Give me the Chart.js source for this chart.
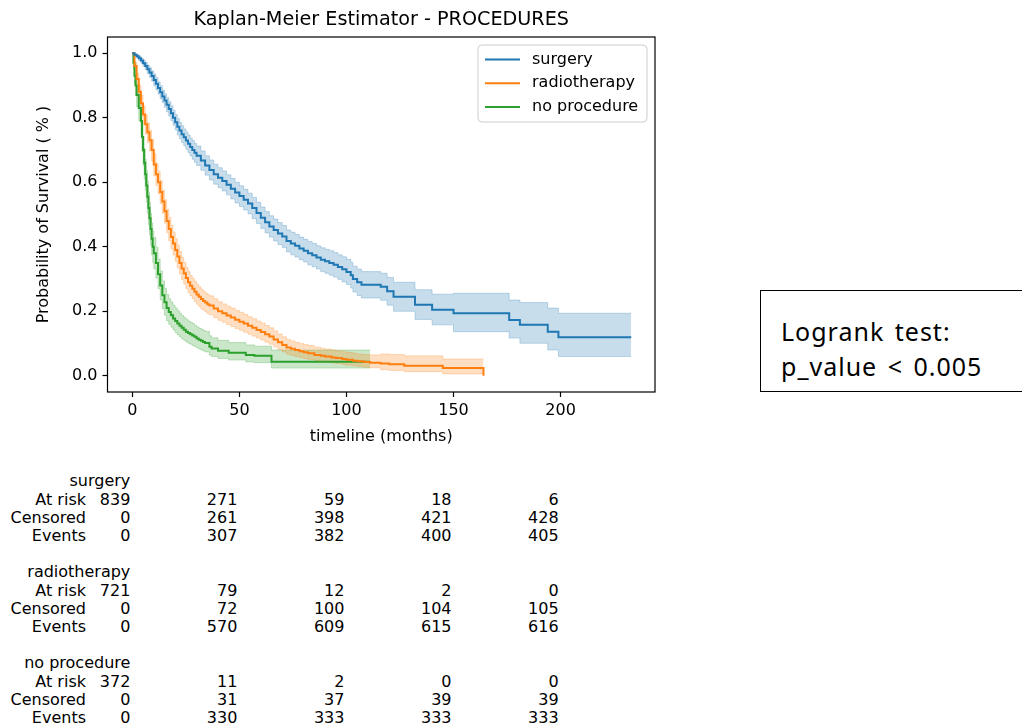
<!DOCTYPE html>
<html>
<head>
<meta charset="utf-8">
<script src="https://cdn.jsdelivr.net/npm/chart.js@4/dist/chart.umd.min.js"></script>
<style>
  body { margin: 0; background: #fff; width: 1022px; height: 727px; position: relative; overflow: hidden; }
  #km { position: absolute; left: 0; top: 0; }
  .cell { position: absolute; font-family: "DejaVu Sans"; font-size: 16px; line-height: 18.2px; color: #000; white-space: pre; text-align: right; }
  #logrank { position: absolute; left: 760px; top: 290px; width: 280px; height: 102px; border: 1.4px solid #000; box-sizing: border-box;
             font-family: "Noto Sans"; font-size: 25px; line-height: 30px; letter-spacing: 1px; word-spacing: 3px; color: #000; }
  #logrank div { position: absolute; left: 20px; white-space: pre; }
</style>
</head>
<body>
<canvas id="km" width="700" height="460"></canvas>
<div id="logrank"><div style="top:25px">Logrank test:</div><div style="top:60px">p_value &lt; 0.005</div></div>
<script>
const xTicks = [0, 50, 100, 150, 200];
const yTicks = [0, 0.2, 0.4, 0.6, 0.8, 1.0];
const groups = ['surgery', 'radiotherapy', 'no procedure'];

// surgery
const surgeryTime  = [0, 1, 2, 3, 4, 5, 6, 7, 8, 9, 10, 11, 12, 13, 14, 15, 16, 17, 18, 19, 20, 21, 22, 23, 24, 25, 26, 27, 28, 29, 30,
  32, 34, 36, 38, 40, 42, 44, 46, 48, 50, 52, 54, 56, 58, 60, 62, 64, 66, 68, 70, 72, 74, 76, 78, 80, 82, 84, 86, 88, 90,
  92, 94, 96, 98, 100, 102, 103, 105, 107, 116, 119, 122, 132, 140, 150, 176, 181, 194, 199, 233];
const surgerySurv  = [1.0, 0.995, 0.99, 0.984, 0.977, 0.969, 0.96, 0.95, 0.94, 0.929, 0.917, 0.905, 0.892, 0.879, 0.866, 0.853, 0.84, 0.827, 0.814, 0.8, 0.786, 0.772, 0.76, 0.749, 0.739, 0.729, 0.719, 0.709, 0.7, 0.691, 0.682,
  0.667, 0.652, 0.638, 0.625, 0.614, 0.604, 0.592, 0.58, 0.568, 0.557, 0.546, 0.534, 0.52, 0.505, 0.49, 0.476, 0.463, 0.452, 0.441, 0.432, 0.418, 0.41, 0.403, 0.395, 0.388, 0.38, 0.374, 0.367, 0.36, 0.355,
  0.35, 0.344, 0.337, 0.33, 0.322, 0.312, 0.3, 0.29, 0.282, 0.276, 0.262, 0.245, 0.22, 0.205, 0.194, 0.173, 0.158, 0.137, 0.12, 0.12];
const surgeryLower = [1.0, 0.992, 0.985, 0.977, 0.969, 0.959, 0.949, 0.937, 0.925, 0.913, 0.899, 0.886, 0.873, 0.859, 0.846, 0.832, 0.818, 0.805, 0.791, 0.777, 0.762, 0.747, 0.735, 0.723, 0.713, 0.702, 0.692, 0.681, 0.671, 0.662, 0.652,
  0.637, 0.622, 0.607, 0.594, 0.583, 0.573, 0.561, 0.548, 0.536, 0.525, 0.514, 0.502, 0.487, 0.472, 0.457, 0.443, 0.43, 0.418, 0.407, 0.398, 0.384, 0.375, 0.368, 0.36, 0.353, 0.344, 0.338, 0.331, 0.323, 0.318,
  0.312, 0.306, 0.299, 0.291, 0.283, 0.272, 0.26, 0.249, 0.241, 0.234, 0.219, 0.2, 0.175, 0.158, 0.137, 0.117, 0.101, 0.08, 0.06, 0.06];
const surgeryUpper = [1.0, 0.998, 0.995, 0.991, 0.985, 0.979, 0.971, 0.963, 0.955, 0.945, 0.935, 0.924, 0.911, 0.899, 0.886, 0.874, 0.862, 0.849, 0.837, 0.823, 0.81, 0.797, 0.785, 0.775, 0.765, 0.756, 0.746, 0.737, 0.729, 0.72, 0.712,
  0.697, 0.682, 0.669, 0.656, 0.645, 0.635, 0.623, 0.612, 0.6, 0.589, 0.578, 0.566, 0.553, 0.538, 0.523, 0.509, 0.496, 0.486, 0.475, 0.466, 0.452, 0.445, 0.438, 0.43, 0.423, 0.416, 0.41, 0.403, 0.397, 0.392,
  0.388, 0.382, 0.375, 0.369, 0.361, 0.352, 0.34, 0.331, 0.323, 0.318, 0.305, 0.29, 0.267, 0.253, 0.256, 0.235, 0.227, 0.21, 0.194, 0.194];

// radiotherapy
const radioTime  = [0, 1, 2, 3, 4, 5, 6, 7, 8, 9, 10, 11, 12, 13, 14, 15, 16, 17, 18, 19, 20, 21, 22, 23, 24, 25, 26, 27, 28, 29, 30,
  31, 32, 33, 34, 35, 36, 38, 40, 42, 44, 46, 48, 50, 52, 54, 56, 58, 60, 62, 64, 66, 68, 70, 72, 74, 76, 78, 80, 82, 85,
  88, 90, 93, 95, 98, 100, 103, 105, 108, 111, 116, 120, 127, 145, 164];
const radioSurv  = [1.0, 0.96, 0.92, 0.88, 0.845, 0.81, 0.78, 0.755, 0.73, 0.7, 0.655, 0.625, 0.6, 0.57, 0.54, 0.51, 0.48, 0.455, 0.43, 0.41, 0.39, 0.37, 0.35, 0.333, 0.318, 0.303, 0.29, 0.279, 0.27, 0.261, 0.252,
  0.245, 0.238, 0.232, 0.227, 0.222, 0.218, 0.209, 0.2, 0.194, 0.187, 0.181, 0.174, 0.168, 0.162, 0.155, 0.149, 0.142, 0.136, 0.129, 0.122, 0.113, 0.104, 0.096, 0.088, 0.084, 0.08, 0.076, 0.073, 0.07, 0.065,
  0.062, 0.06, 0.057, 0.055, 0.052, 0.05, 0.047, 0.045, 0.043, 0.041, 0.038, 0.036, 0.031, 0.024, 0.0];
const radioLower = [1.0, 0.946, 0.9, 0.856, 0.818, 0.781, 0.749, 0.723, 0.697, 0.666, 0.62, 0.59, 0.564, 0.534, 0.504, 0.473, 0.444, 0.419, 0.394, 0.375, 0.355, 0.335, 0.316, 0.299, 0.285, 0.27, 0.258, 0.248, 0.239, 0.23, 0.222,
  0.215, 0.208, 0.203, 0.198, 0.193, 0.189, 0.18, 0.172, 0.166, 0.159, 0.153, 0.147, 0.141, 0.135, 0.129, 0.123, 0.117, 0.111, 0.104, 0.098, 0.09, 0.082, 0.074, 0.067, 0.063, 0.06, 0.057, 0.054, 0.051, 0.047,
  0.044, 0.042, 0.04, 0.038, 0.035, 0.033, 0.031, 0.029, 0.027, 0.025, 0.019, 0.017, 0.013, 0.006, 0.006];
const radioUpper = [1.0, 0.972, 0.937, 0.901, 0.869, 0.836, 0.808, 0.784, 0.761, 0.732, 0.688, 0.659, 0.634, 0.605, 0.576, 0.546, 0.516, 0.491, 0.466, 0.446, 0.425, 0.405, 0.385, 0.367, 0.352, 0.336, 0.323, 0.311, 0.302, 0.293, 0.284,
  0.276, 0.269, 0.263, 0.257, 0.252, 0.248, 0.239, 0.23, 0.223, 0.216, 0.21, 0.203, 0.197, 0.19, 0.183, 0.177, 0.17, 0.164, 0.156, 0.149, 0.139, 0.13, 0.121, 0.113, 0.108, 0.104, 0.1, 0.097, 0.094, 0.089,
  0.085, 0.083, 0.08, 0.078, 0.075, 0.073, 0.07, 0.068, 0.066, 0.065, 0.068, 0.066, 0.062, 0.052, 0.052];

// no procedure
const noneTime  = [0, 0.5, 1, 1.5, 2, 3, 4, 4.5, 5, 5.5, 6, 6.5, 7, 7.5, 8, 8.5, 9, 9.5, 10, 11, 12, 13, 14, 15, 16, 17, 18, 19, 20,
  21, 22, 23, 24, 25, 26, 27, 28, 29, 30, 31, 32, 33, 34, 36, 37, 40, 45, 53, 57, 65, 111];
const noneSurv  = [1.0, 0.97, 0.93, 0.9, 0.87, 0.83, 0.79, 0.74, 0.7, 0.66, 0.625, 0.59, 0.555, 0.52, 0.488, 0.455, 0.425, 0.4, 0.38, 0.35, 0.315, 0.28, 0.25, 0.228, 0.21, 0.198, 0.188, 0.178, 0.17,
  0.162, 0.155, 0.149, 0.143, 0.137, 0.133, 0.129, 0.125, 0.121, 0.116, 0.112, 0.109, 0.105, 0.102, 0.09, 0.085, 0.078, 0.072, 0.065, 0.062, 0.044, 0.044];
const noneLower = [1.0, 0.95, 0.902, 0.868, 0.834, 0.79, 0.746, 0.694, 0.652, 0.61, 0.575, 0.539, 0.504, 0.469, 0.437, 0.405, 0.375, 0.351, 0.332, 0.303, 0.27, 0.236, 0.208, 0.188, 0.171, 0.16, 0.151, 0.142, 0.134,
  0.127, 0.121, 0.115, 0.11, 0.105, 0.101, 0.098, 0.094, 0.091, 0.087, 0.083, 0.08, 0.077, 0.074, 0.064, 0.06, 0.054, 0.049, 0.043, 0.041, 0.024, 0.024];
const noneUpper = [1.0, 0.983, 0.95, 0.924, 0.898, 0.863, 0.827, 0.781, 0.743, 0.705, 0.671, 0.637, 0.603, 0.569, 0.537, 0.504, 0.474, 0.449, 0.429, 0.398, 0.362, 0.325, 0.294, 0.271, 0.252, 0.239, 0.229, 0.219, 0.21,
  0.202, 0.194, 0.187, 0.181, 0.175, 0.17, 0.166, 0.162, 0.157, 0.152, 0.148, 0.145, 0.141, 0.138, 0.124, 0.118, 0.11, 0.103, 0.096, 0.092, 0.08, 0.08];

// at-risk table
const atRiskSurgery   = [839, 271, 59, 18, 6];
const censoredSurgery = [0, 261, 398, 421, 428];
const eventsSurgery   = [0, 307, 382, 400, 405];
const atRiskRadio     = [721, 79, 12, 2, 0];
const censoredRadio   = [0, 72, 100, 104, 105];
const eventsRadio     = [0, 570, 609, 615, 616];
const atRiskNone      = [372, 11, 2, 0, 0];
const censoredNone    = [0, 31, 37, 39, 39];
const eventsNone      = [0, 330, 333, 333, 333];

const colors = ['#1f77b4', '#ff7f0e', '#2ca02c'];
const bandColors = ['rgba(31,119,180,0.25)', 'rgba(255,127,14,0.25)', 'rgba(44,160,44,0.25)'];

function pts(t, v) { return t.map((x, i) => ({ x: x, y: v[i] })); }

const series = [
  [surgeryTime, surgerySurv, surgeryLower, surgeryUpper],
  [radioTime, radioSurv, radioLower, radioUpper],
  [noneTime, noneSurv, noneLower, noneUpper]
];

const datasets = [];
series.forEach((s, i) => {
  datasets.push({ label: groups[i], data: pts(s[0], s[1]), borderColor: colors[i], borderWidth: 2,
    stepped: true, pointRadius: 0, fill: false, order: 0 });
});
series.forEach((s, i) => {
  datasets.push({ label: groups[i] + ' upper', data: pts(s[0], s[3]), borderColor: bandColors[i], borderWidth: 1,
    backgroundColor: bandColors[i], stepped: true, pointRadius: 0, fill: '+1', order: 1 });
  datasets.push({ label: groups[i] + ' lower', data: pts(s[0], s[2]), borderColor: bandColors[i], borderWidth: 1,
    stepped: true, pointRadius: 0, fill: false, order: 1 });
});

const font = '16px "DejaVu Sans"';

const decor = {
  id: 'decor',
  afterDraw(chart) {
    const ctx = chart.ctx, a = chart.chartArea;
    ctx.save();
    ctx.strokeStyle = '#000';
    ctx.lineWidth = 1.2;
    ctx.strokeRect(a.left, a.top, a.right - a.left, a.bottom - a.top);

    ctx.fillStyle = '#000';
    ctx.textAlign = 'center';
    ctx.textBaseline = 'middle';
    ctx.font = '19.2px "DejaVu Sans"';
    ctx.fillText('Kaplan-Meier Estimator - PROCEDURES', (a.left + a.right) / 2, 20);
    ctx.font = font;
    ctx.fillText('timeline (months)', (a.left + a.right) / 2, 437);
    ctx.translate(44, (a.top + a.bottom) / 2);
    ctx.rotate(-Math.PI / 2);
    ctx.fillText('Probability of Survival ( % )', 0, 0);
    ctx.restore();

    // legend
    ctx.save();
    const bx = 478, by = 45, bw = 169, bh = 77, r = 4;
    ctx.beginPath();
    ctx.moveTo(bx + r, by);
    ctx.arcTo(bx + bw, by, bx + bw, by + bh, r);
    ctx.arcTo(bx + bw, by + bh, bx, by + bh, r);
    ctx.arcTo(bx, by + bh, bx, by, r);
    ctx.arcTo(bx, by, bx + bw, by, r);
    ctx.closePath();
    ctx.fillStyle = 'rgba(255,255,255,0.8)';
    ctx.fill();
    ctx.strokeStyle = '#cccccc';
    ctx.lineWidth = 1;
    ctx.stroke();
    ctx.font = font;
    ctx.textAlign = 'left';
    ctx.textBaseline = 'middle';
    groups.forEach((g, i) => {
      const y = 59.5 + i * 23.7;
      ctx.strokeStyle = colors[i];
      ctx.lineWidth = 2;
      ctx.beginPath();
      ctx.moveTo(485, y);
      ctx.lineTo(520, y);
      ctx.stroke();
      ctx.fillStyle = '#000';
      ctx.fillText(g, 532, y);
    });
    ctx.restore();
  }
};

const chart = new Chart(document.getElementById('km').getContext('2d'), {
  type: 'line',
  data: { datasets: datasets },
  options: {
    responsive: false,
    animation: false,
    devicePixelRatio: 1,
    layout: { padding: { left: 0, top: 37, right: 45, bottom: 0 } },
    plugins: { legend: { display: false }, tooltip: { enabled: false }, title: { display: false } },
    scales: {
      x: {
        type: 'linear', min: -11.6, max: 244.1,
        afterFit: s => { s.height = 68; },
        afterBuildTicks: s => { s.ticks = xTicks.map(v => ({ value: v })); },
        border: { display: false },
        grid: { drawOnChartArea: false, drawTicks: true, tickLength: 5, tickColor: '#000', tickWidth: 1.2 },
        ticks: { color: '#000', font: { family: 'DejaVu Sans', size: 16 }, padding: 4, maxRotation: 0 }
      },
      y: {
        type: 'linear', min: -0.05, max: 1.05,
        afterFit: s => { s.width = 107.5; },
        afterBuildTicks: s => { s.ticks = yTicks.map(v => ({ value: v })); },
        border: { display: false },
        grid: { drawOnChartArea: false, drawTicks: true, tickLength: 5, tickColor: '#000', tickWidth: 1.2 },
        ticks: { color: '#000', font: { family: 'DejaVu Sans', size: 16 }, padding: 5, callback: v => v.toFixed(1) }
      }
    }
  },
  plugins: [decor]
});

// at-risk counts table under the plot, right-aligned at the x ticks
const tableGroups = [
  [groups[0], atRiskSurgery, censoredSurgery, eventsSurgery],
  [groups[1], atRiskRadio, censoredRadio, eventsRadio],
  [groups[2], atRiskNone, censoredNone, eventsNone]
];
const rowNames = ['At risk', 'Censored', 'Events'];
const lineH = 18.2, firstY = 481.5;
function cell(text, right, center) {
  const d = document.createElement('div');
  d.className = 'cell';
  d.textContent = text;
  d.style.right = (1022 - right) + 'px';
  d.style.top = (center - lineH / 2) + 'px';
  document.body.appendChild(d);
}
tableGroups.forEach((g, gi) => {
  const base = firstY + gi * 5 * lineH;
  const x0 = chart.scales.x.getPixelForValue(xTicks[0]) - 2;
  cell(g[0], x0, base);
  rowNames.forEach((name, ri) => {
    const y = base + (ri + 1) * lineH;
    cell(name, 86, y);
    xTicks.forEach((t, ti) => {
      cell(String(g[ri + 1][ti]), chart.scales.x.getPixelForValue(t) - 2, y);
    });
  });
});
</script>
</body>
</html>
